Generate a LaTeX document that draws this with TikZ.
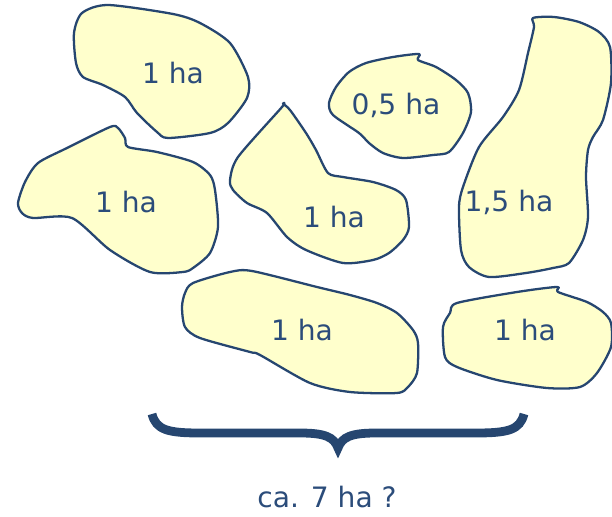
\documentclass[tikz,border=0pt]{standalone}
\usepackage{fontspec}
\setmainfont{DejaVu Sans}
\usepackage{xcolor}
\usepackage{tikz}
\definecolor{fieldfill}{HTML}{FFFFCC}
\definecolor{fieldline}{HTML}{264670}
\definecolor{labeltext}{HTML}{2B4C7A}
\tikzset{field/.style={fill=fieldfill, draw=fieldline, line width=1.3pt, line join=round}}
\tikzset{every node/.append style={font=\fontsize{16}{19}\selectfont, text=labeltext}}

\begin{document}
\begin{tikzpicture}[x=0.02cm, y=-0.02cm]
    \useasboundingbox (0,0) rectangle (612,517);

    % Fields
    \draw[field] plot [smooth cycle, tension=0.45] coordinates {
        (74,33) (82,13) (108,5) (173,14) (200,23) (230,43) (248,77) (247,98)
        (228,123) (210,133) (168,138) (157,132) (137,113) (125,97) (103,85) (83,77) (76,63)};
    \draw[field] plot [smooth cycle, tension=0.45] coordinates {
        (18,203) (25,182) (38,163) (67,148) (110,127) (118,128) (125,138) (128,147)
        (157,152) (193,162) (210,175) (215,190) (218,227) (210,253) (193,268) (183,272)
        (150,272) (110,250) (72,218) (33,218) (22,213)};
    \draw[field] plot [smooth cycle, tension=0.45] coordinates {
        (282,107) (283,104) (290,110) (306,133) (316,150) (328,173) (343,177) (373,182)
        (396,190) (406,200) (409,227) (403,240) (389,253) (373,260) (343,263) (306,250)
        (287,237) (267,213) (247,203) (233,190) (230,180) (238,157)};
    \draw[field] plot [smooth cycle, tension=0.45] coordinates {
        (329,103) (336,87) (349,72) (366,63) (393,57) (419,54) (418,60) (436,67)
        (456,80) (468,93) (471,112) (463,133) (449,152) (433,155) (403,158) (383,153)
        (369,143) (359,133) (333,115)};
    \draw[field] plot [smooth cycle, tension=0.45] coordinates {
        (533,18) (554,17) (579,22) (599,32) (610,47) (611,83) (603,120) (593,137)
        (588,150) (586,177) (588,217) (583,240) (569,263) (553,268) (526,273) (489,277)
        (469,267) (461,250) (459,207) (463,187) (479,147) (503,117) (519,90) (528,53)
        (534,27)};
    \draw[field] plot [smooth cycle, tension=0.45] coordinates {
        (182,307) (185,327) (200,338) (250,352) (260,355) (310,383) (350,392) (397,393)
        (408,387) (417,373) (418,343) (413,330) (397,313) (377,303) (350,295) (317,287)
        (252,271) (230,272) (193,283) (185,293)};
    \draw[field] plot [smooth cycle, tension=0.45] coordinates {
        (443,327) (445,357) (457,367) (497,380) (547,388) (580,387) (597,373) (611,347)
        (611,323) (603,312) (587,302) (558,292) (557,287) (517,292) (457,303) (450,313)};

    % Labels
    \node (topleft) at (173,73) {1 ha};
    \node (midleft) at (126,202) {1 ha};
    \node (middle) at (334,217) {1 ha};
    \node (small) at (396,105) {0,5 ha};
    \node (long) at (509,202) {1,5 ha};
    \node (lowmid) at (302,330) {1 ha};
    \node (lowright) at (525,330) {1 ha};

    % Brace and total
    \draw[line width=5pt, color=fieldline]
        (152,414) .. controls (156,430) and (168,433) .. (200,433) -- (300,433)
        .. controls (325,433) and (334,437) .. (338,448)
        .. controls (342,437) and (351,433) .. (376,433) -- (476,433)
        .. controls (508,433) and (520,430) .. (524,414);
    \node (total) at (327,497) {ca. 7 ha ?};
\end{tikzpicture}
\end{document}
